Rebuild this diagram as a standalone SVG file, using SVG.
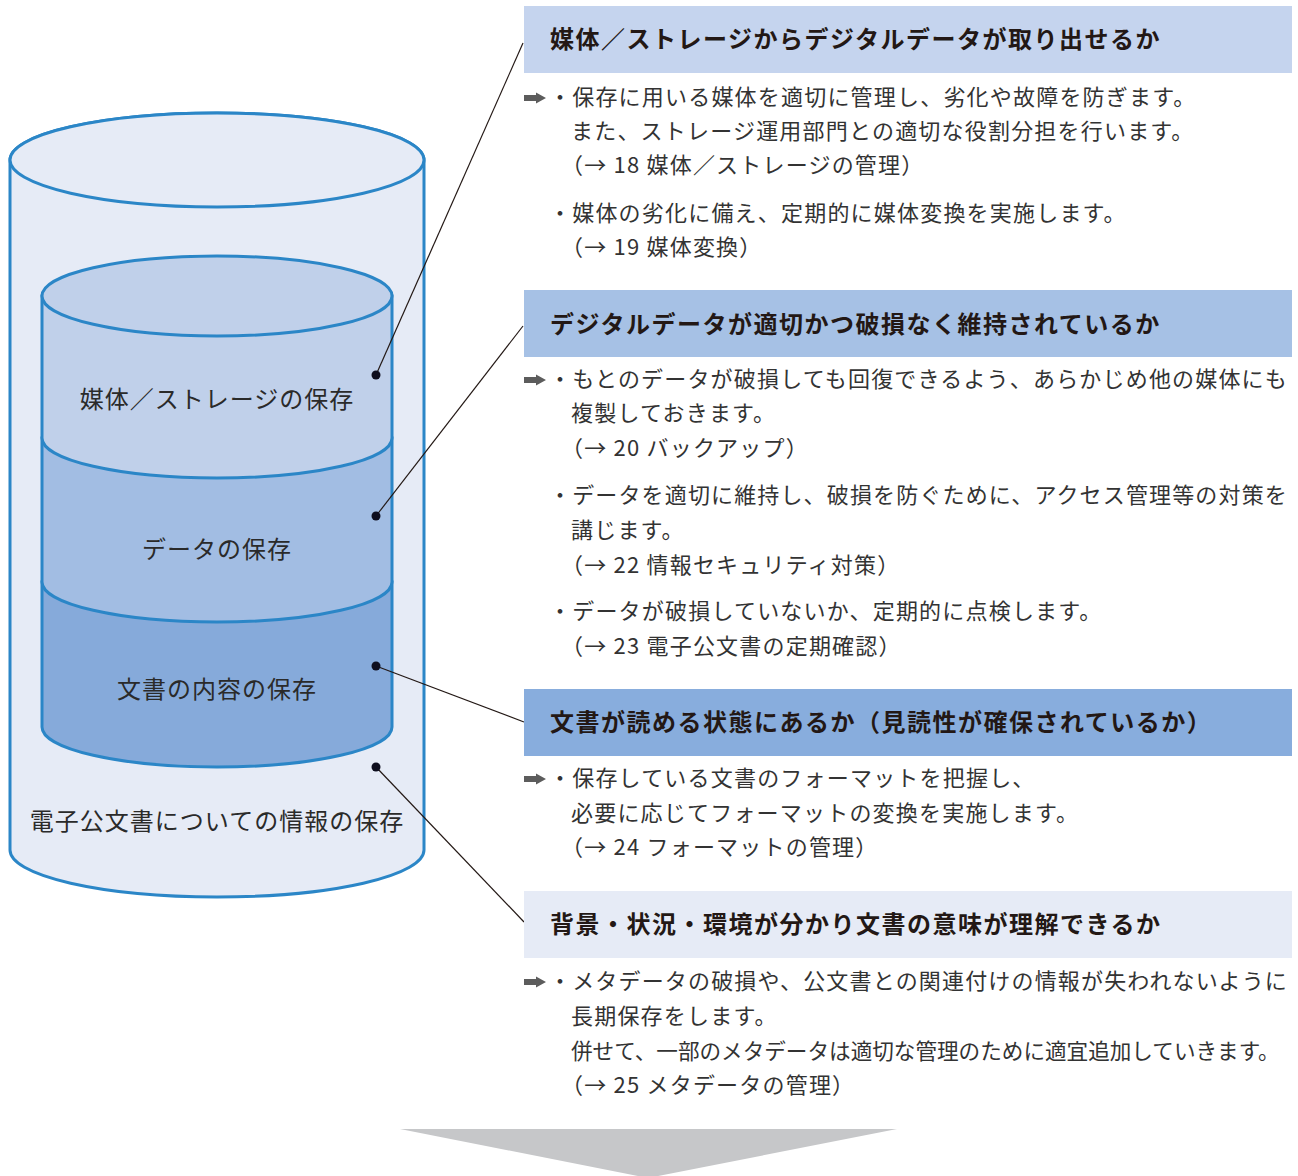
<svg xmlns="http://www.w3.org/2000/svg" width="1298" height="1176" viewBox="0 0 1298 1176">
<style>
.cyl{stroke:#2b86c7;stroke-width:3}
.lbl{font-family:"Noto Sans CJK JP","Noto Sans",sans-serif;font-size:24px;fill:#2a2a2a;text-anchor:middle;letter-spacing:1px}
.hd{font-family:"Noto Sans CJK JP","Noto Sans",sans-serif;font-size:24px;font-weight:700;fill:#231815;letter-spacing:1.5px}
.tx{font-family:"Noto Sans CJK JP","Noto Sans",sans-serif;font-size:22px;fill:#333;letter-spacing:1.2px}
.tight{font-size:21.6px;letter-spacing:0}
.con{stroke:#231815;stroke-width:1.2;fill:none}
.dot{fill:#0e0e1e}
.arr{fill:#5c5c5c}
</style>
<defs>
<path id="ar" d="M0,-3 H12 V-5.5 L22,0 L12,5.5 V3 H0 Z"/>
</defs>
<rect width="1298" height="1176" fill="#fff"/>

<g id="outer-cylinder">
<path class="cyl" fill="#e6ebf6" d="M10,160 V850 A207,47 0 0 0 424,850 V160 A207,47 0 0 0 10,160 Z"/>
<ellipse class="cyl" fill="#e6ebf6" cx="217" cy="160" rx="207" ry="47"/>
<text class="lbl" x="217" y="830">電子公文書についての情報の保存</text>
</g>

<g id="layer-content">
<path class="cyl" fill="#86aada" d="M42,582 V727 A175,40 0 0 0 392,727 V582 Z"/>
<text class="lbl" x="217" y="698">文書の内容の保存</text>
</g>
<g id="layer-data">
<path class="cyl" fill="#a2bde3" d="M42,438 V582 A175,40 0 0 0 392,582 V438 Z"/>
<text class="lbl" x="217" y="558">データの保存</text>
</g>
<g id="layer-media">
<path class="cyl" fill="#c0d0ea" d="M42,296 V438 A175,40 0 0 0 392,438 V296 Z"/>
<ellipse class="cyl" fill="#c0d0ea" cx="217" cy="296" rx="175" ry="40"/>
<text class="lbl" x="217" y="408">媒体／ストレージの保存</text>
</g>

<g id="connectors">
<line class="con" x1="376" y1="375" x2="523" y2="43"/>
<line class="con" x1="376" y1="516" x2="523" y2="326"/>
<line class="con" x1="376" y1="666" x2="524" y2="722"/>
<line class="con" x1="376" y1="767" x2="524" y2="922"/>
<circle class="dot" cx="376" cy="375" r="4.5"/>
<circle class="dot" cx="376" cy="516" r="4.5"/>
<circle class="dot" cx="376" cy="666" r="4.5"/>
<circle class="dot" cx="376" cy="767" r="4.5"/>
</g>

<g id="section-media">
<rect x="524" y="6" width="768" height="67" fill="#c5d4ee"/>
<text class="hd" x="550" y="48">媒体／ストレージからデジタルデータが取り出せるか</text>
<use href="#ar" class="arr" x="524" y="98"/>
<text class="tx" x="549" y="105">・保存に用いる媒体を適切に管理し、劣化や故障を防ぎます。</text>
<text class="tx" x="571" y="139">また、ストレージ運用部門との適切な役割分担を行います。</text>
<text class="tx" x="561" y="173">（→ 18 媒体／ストレージの管理）</text>
<text class="tx" x="549" y="221">・媒体の劣化に備え、定期的に媒体変換を実施します。</text>
<text class="tx" x="561" y="255">（→ 19 媒体変換）</text>
</g>

<g id="section-data">
<rect x="524" y="290" width="768" height="67" fill="#a6c1e5"/>
<text class="hd" x="550" y="333">デジタルデータが適切かつ破損なく維持されているか</text>
<use href="#ar" class="arr" x="524" y="380"/>
<text class="tx" x="549" y="387" textLength="739" lengthAdjust="spacing">・もとのデータが破損しても回復できるよう、あらかじめ他の媒体にも</text>
<text class="tx" x="571" y="421">複製しておきます。</text>
<text class="tx" x="561" y="456">（→ 20 バックアップ）</text>
<text class="tx" x="549" y="503" textLength="739" lengthAdjust="spacing">・データを適切に維持し、破損を防ぐために、アクセス管理等の対策を</text>
<text class="tx" x="571" y="538">講じます。</text>
<text class="tx" x="561" y="573">（→ 22 情報セキュリティ対策）</text>
<text class="tx" x="549" y="619">・データが破損していないか、定期的に点検します。</text>
<text class="tx" x="561" y="654">（→ 23 電子公文書の定期確認）</text>
</g>

<g id="section-content">
<rect x="524" y="689" width="768" height="67" fill="#88addd"/>
<text class="hd" x="550" y="731">文書が読める状態にあるか（見読性が確保されているか）</text>
<use href="#ar" class="arr" x="524" y="779"/>
<text class="tx" x="549" y="786">・保存している文書のフォーマットを把握し、</text>
<text class="tx" x="571" y="821">必要に応じてフォーマットの変換を実施します。</text>
<text class="tx" x="561" y="855">（→ 24 フォーマットの管理）</text>
</g>

<g id="section-meta">
<rect x="524" y="891" width="768" height="67" fill="#e6ebf6"/>
<text class="hd" x="550" y="933">背景・状況・環境が分かり文書の意味が理解できるか</text>
<use href="#ar" class="arr" x="524" y="982"/>
<text class="tx" x="549" y="989" textLength="739" lengthAdjust="spacing">・メタデータの破損や、公文書との関連付けの情報が失われないように</text>
<text class="tx" x="571" y="1024">長期保存をします。</text>
<text class="tx tight" x="571" y="1059">併せて、一部のメタデータは適切な管理のために適宜追加していきます。</text>
<text class="tx" x="561" y="1093">（→ 25 メタデータの管理）</text>
</g>

<g id="down-arrow">
<polygon points="400,1129 897,1129 648,1178" fill="#c6c7c9"/>
</g>
</svg>
